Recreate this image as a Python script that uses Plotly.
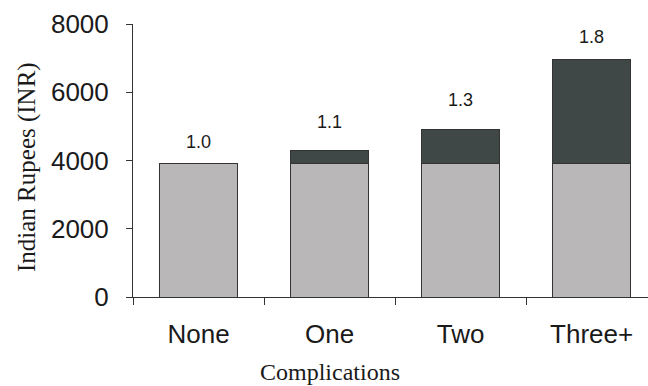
import plotly.graph_objects as go

categories = ["None", "One", "Two", "Three+"]
base_cost = [3920, 3920, 3920, 3920]
extra_cost = [0, 360, 1000, 3050]
ratio_labels = ["1.0", "1.1", "1.3", "1.8"]
label_offsets = [21, 29, 29, 22]

light = "#b9b7b8"
dark = "#3f4847"
edge = "#333333"

fig = go.Figure()
fig.add_trace(go.Bar(x=categories, y=base_cost, marker=dict(color=light, line=dict(color=edge, width=1)), width=0.59))
fig.add_trace(go.Bar(x=categories, y=extra_cost, marker=dict(color=dark, line=dict(color=edge, width=1)), width=0.59))

totals = [b + e for b, e in zip(base_cost, extra_cost)]
for c, t, lab, off in zip(categories, totals, ratio_labels, label_offsets):
    fig.add_annotation(x=c, y=t, text=lab, showarrow=False, yshift=off,
                       font=dict(family="Liberation Sans, Arial", size=18, color="#1a1a1a"))

L, W, T, H = 133, 515, 24, 273
fig.add_annotation(xref="paper", yref="paper", x=(330 - L) / W, y=-(372 - T - H) / H,
                   xanchor="center", yanchor="middle", text="Complications", showarrow=False,
                   font=dict(family="Liberation Serif, Times New Roman", size=24, color="#1a1a1a"))
fig.add_annotation(xref="paper", yref="paper", x=(27 - L) / W, y=1 - (167 - T) / H,
                   xanchor="center", yanchor="middle", text="Indian Rupees (INR)", textangle=-90,
                   showarrow=False,
                   font=dict(family="Liberation Serif, Times New Roman", size=25, color="#1a1a1a"))

fig.update_layout(
    barmode="stack",
    width=648, height=386,
    margin=dict(l=L, r=648 - L - W, t=T, b=386 - T - H, autoexpand=False),
    paper_bgcolor="white", plot_bgcolor="white",
    showlegend=False,
    yaxis=dict(range=[0, 8000], tickvals=[0, 2000, 4000, 6000, 8000], showgrid=False, zeroline=False,
               showline=True, linecolor="#333", linewidth=1, ticks="outside", ticklen=6, tickcolor="#333",
               ticklabelstandoff=12, automargin=False,
               tickfont=dict(family="Liberation Sans, Arial", size=26, color="#1a1a1a")),
    xaxis=dict(range=[-0.5, 3.43], showgrid=False, showline=True, linecolor="#333", linewidth=1,
               ticks="outside", ticklen=7, tickcolor="#333", tickson="boundaries",
               ticklabelstandoff=14, automargin=False,
               tickfont=dict(family="Liberation Sans, Arial", size=26, color="#1a1a1a")),
)

fig.write_html("out.html", config={"displayModeBar": False},
               post_script="document.body.style.margin='0';document.body.style.overflow='hidden';")
